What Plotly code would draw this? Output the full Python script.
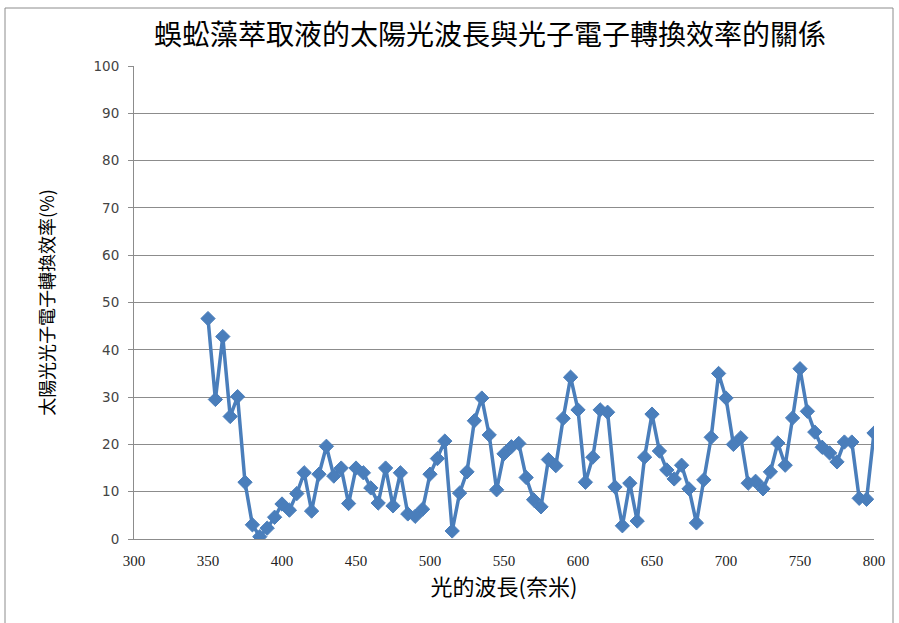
import plotly.graph_objects as go

# Wavelength (nm) and photon-to-electron conversion efficiency (%)
wavelength = list(range(350, 805, 5))
efficiency = [
    46.6, 29.5, 42.8, 25.9, 30.1, 12.0, 3.0, 0.5, 2.3, 4.6,
    7.4, 6.1, 9.6, 14.0, 5.9, 13.7, 19.6, 13.3, 15.0, 7.5,
    15.0, 14.0, 10.8, 7.6, 15.0, 7.0, 14.0, 5.3, 4.8, 6.3,
    13.7, 17.0, 20.7, 1.7, 9.7, 14.2, 25.0, 29.8, 22.0, 10.4,
    18.0, 19.5, 20.2, 13.0, 8.3, 6.8, 16.8, 15.5, 25.5, 34.2,
    27.3, 12.0, 17.3, 27.3, 26.8, 11.0, 2.8, 11.8, 3.8, 17.3,
    26.4, 18.6, 14.6, 12.7, 15.6, 10.6, 3.4, 12.5, 21.5, 35.0,
    29.8, 20.0, 21.4, 11.8, 12.2, 10.6, 14.2, 20.3, 15.6, 25.6,
    36.0, 27.0, 22.6, 19.4, 18.2, 16.3, 20.5, 20.5, 8.6, 8.4,
    22.4,
]

title_text = "蜈蚣藻萃取液的太陽光波長與光子電子轉換效率的關係"
x_title = "光的波長(奈米)"
y_title = "太陽光光子電子轉換效率(%)"

x_ticks = list(range(300, 801, 50))
y_ticks = list(range(0, 101, 10))

blue = "#4a7ebb"
cjk = "Noto Sans CJK TC"

fig = go.Figure()
fig.add_trace(go.Scatter(
    x=wavelength,
    y=efficiency,
    mode="lines+markers",
    line=dict(color=blue, width=3.5),
    marker=dict(symbol="diamond", size=11, color=blue,
                line=dict(color=blue, width=1)),
    showlegend=False,
))

fig.update_layout(
    width=899,
    height=623,
    margin=dict(l=134, r=25, t=66, b=84),
    paper_bgcolor="white",
    plot_bgcolor="white",
    title=dict(
        text=title_text,
        x=0.545, xanchor="center",
        y=1 - 35 / 623, yanchor="middle",
        font=dict(family=cjk, size=28, color="#000000"),
    ),
    xaxis=dict(
        range=[300, 800],
        tickvals=x_ticks,
        ticktext=[str(v) for v in x_ticks],
        tickfont=dict(family="Liberation Serif", size=15, color="#222222"),
        showgrid=False,
        zeroline=False,
        showline=True,
        linecolor="#8c8c8c",
        linewidth=1,
        ticks="",
        ticklabelstandoff=8,
        title=dict(text=x_title, font=dict(family=cjk, size=22, color="#000000"),
                   standoff=11),
    ),
    yaxis=dict(
        range=[0, 100],
        tickvals=y_ticks,
        tickfont=dict(family="DejaVu Sans", size=13.5, color="#444444"),
        showgrid=True,
        gridcolor="#8c8c8c",
        gridwidth=1,
        zeroline=False,
        showline=True,
        linecolor="#8c8c8c",
        linewidth=1,
        ticks="outside",
        ticklen=5,
        tickcolor="#8c8c8c",
        ticklabelstandoff=6,
        title=dict(text=y_title, font=dict(family=cjk, size=18, color="#000000"),
                   standoff=34),
    ),
    shapes=[
        # outer chart frame
        dict(type="rect", xref="paper", yref="paper",
             x0=(5 - 134) / 740, x1=(893 - 134) / 740,
             y0=(539 - 640) / 473, y1=(539 - 8) / 473,
             line=dict(color="#8c8c8c", width=1), layer="below"),
    ],
)

fig.write_html("out.html")
